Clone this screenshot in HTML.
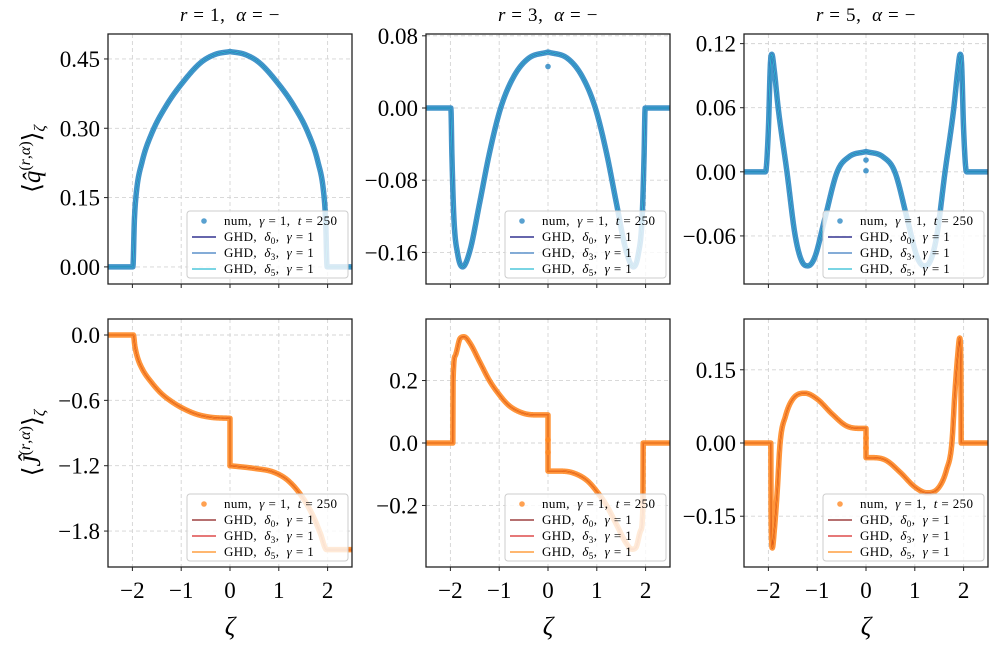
<!DOCTYPE html>
<html><head><meta charset="utf-8"><style>
html,body{margin:0;padding:0;background:#fff;}
svg{display:block;font-family:"Liberation Serif",serif;}
text{white-space:pre;}
</style></head><body>
<svg id="s" width="997" height="647" viewBox="0 0 997 647" xmlns="http://www.w3.org/2000/svg"></svg>
<script>
const S=document.getElementById('s');let out='';
function interp(P,x){if(x<=P[0][0])return P[0][1];const n=P.length;
 if(!P.m){const d=[];for(let i=0;i<n-1;i++)d.push((P[i+1][1]-P[i][1])/(P[i+1][0]-P[i][0]));
  const m=[d[0]];for(let i=1;i<n-1;i++){m.push(d[i-1]*d[i]<=0?0:(d[i-1]+d[i])/2);}m.push(d[n-2]);
  for(let i=0;i<n-1;i++){if(d[i]==0){m[i]=0;m[i+1]=0;continue;}const a=m[i]/d[i],b=m[i+1]/d[i],s=a*a+b*b;
   if(s>9){const t=3/Math.sqrt(s);m[i]=t*a*d[i];m[i+1]=t*b*d[i];}}P.m=m;}
 for(let i=0;i<n-1;i++){if(x<=P[i+1][0]){
 const x0=P[i][0],x1=P[i+1][0],y0=P[i][1],y1=P[i+1][1],h=x1-x0,m0=P.m[i],m1=P.m[i+1];
 const t=(x-x0)/h,t2=t*t,t3=t2*t;
 return (2*t3-3*t2+1)*y0+(t3-2*t2+t)*h*m0+(-2*t3+3*t2)*y1+(t3-t2)*h*m1;}}return P[n-1][1];}
const Q1=[[-2.5,0],[-1.99,0],[-1.96,0.1],[-1.92,0.16],[-1.8,0.228],[-1.6,0.29],[-1.3,0.35],[-1,0.395],[-0.6,0.442],[-0.3,0.46],[0,0.466]];
const Q3=[[-2.5,0],[-1.99,0],[-1.97,-0.05],[-1.93,-0.12],[-1.85,-0.162],[-1.75,-0.176],[-1.6,-0.158],[-1.4,-0.105],[-1.2,-0.05],[-0.97,0],[-0.7,0.035],[-0.4,0.055],[0,0.062]];
const Q5=[[-2.5,0],[-2.06,0],[-2.0,0.04],[-1.96,0.1],[-1.93,0.11],[-1.88,0.095],[-1.8,0.06],[-1.62,0],[-1.45,-0.06],[-1.3,-0.085],[-1.19,-0.088],[-1.05,-0.08],[-0.85,-0.045],[-0.59,0],[-0.35,0.014],[0,0.019]];
const J1L=[[-2.5,0],[-1.98,0],[-1.95,-0.1],[-1.9,-0.2],[-1.8,-0.31],[-1.6,-0.44],[-1.4,-0.54],[-1.2,-0.61],[-1,-0.665],[-0.7,-0.725],[-0.4,-0.755],[0,-0.765]];
const J1R=[[0,-1.2],[0.5,-1.225],[0.9,-1.26],[1.2,-1.34],[1.5,-1.5],[1.7,-1.66],[1.85,-1.82],[1.98,-1.97],[2.5,-1.97]];
const P3=[[-2.5,0],[-1.95,0],[-1.945,0.2],[-1.9,0.28],[-1.8,0.335],[-1.72,0.34],[-1.6,0.32],[-1.4,0.26],[-1.2,0.2],[-1,0.155],[-0.8,0.12],[-0.5,0.095],[-0.2,0.09],[0,0.09]];
const P5=[[-2.5,0],[-1.95,0],[-1.945,-0.15],[-1.92,-0.215],[-1.88,-0.18],[-1.82,-0.1],[-1.76,0],[-1.65,0.055],[-1.5,0.09],[-1.25,0.102],[-1.0,0.09],[-0.7,0.06],[-0.4,0.035],[-0.1,0.03],[0,0.03]];
const even=P=>z=>interp(P,-Math.abs(z));
const odd=P=>z=>z<0?interp(P,z):-interp(P,-z);
const W=244;
function panel(x0,y0,h,ymin,ymax,ticks,labs,fn,bottom,orange,title,extra){
 const X=z=>x0+(z+2.5)/5*W,Y=v=>y0+(ymax-v)/(ymax-ymin)*h;const id='c'+x0+'_'+y0;
 out+=`<clipPath id="${id}"><rect x="${x0}" y="${y0}" width="${W}" height="${h}"/></clipPath>`;
 for(let t=-2;t<=2;t++)out+=`<line x1="${X(t)}" y1="${y0}" x2="${X(t)}" y2="${y0+h}" stroke="#d4d4d4" stroke-dasharray="4,3" stroke-width="0.9"/>`;
 ticks.forEach(v=>out+=`<line x1="${x0}" y1="${Y(v)}" x2="${x0+W}" y2="${Y(v)}" stroke="#d4d4d4" stroke-dasharray="4,3" stroke-width="0.9"/>`);
 let pts=[];for(let z=-2.5;z<-0.0001;z+=0.005)pts.push([z,fn(z)]);pts.push([-0.0001,fn(-0.0001)]);pts.push([0.0001,fn(0.0001)]);
 for(let z=0.005;z<=2.5001;z+=0.005)pts.push([z,fn(z)]);
 const d='M'+pts.map(p=>X(p[0]).toFixed(2)+','+Y(p[1]).toFixed(2)).join('L');
 const dot=orange?'#ff8a26':'#2f8ac4';const cols=orange?['#8b1a1a','#d62728','#ff8c1a']:['#0b0b7a','#3a7bbf','#2bbcd4'];
 out+=`<g clip-path="url(#${id})"><path d="${d}" fill="none" stroke="${dot}" stroke-width="5.5" stroke-linejoin="round" opacity="0.9"/>`;
 cols.forEach((c,i)=>out+=`<path d="${d}" fill="none" stroke="${c}" stroke-width="${i==0?1.3:1}" opacity="0.9"/>`);
 (extra||[]).forEach(p=>out+=`<circle cx="${X(p[0])}" cy="${Y(p[1])}" r="2.8" fill="${dot}" opacity="0.85"/>`);
 out+=`</g>`;
 out+=`<rect x="${x0}" y="${y0}" width="${W}" height="${h}" fill="none" stroke="#222" stroke-width="1.3"/>`;
 ticks.forEach((v,i)=>{out+=`<line x1="${x0-4}" y1="${Y(v)}" x2="${x0}" y2="${Y(v)}" stroke="#222"/>`;
  out+=`<text x="${x0-8}" y="${Y(v)+8}" font-size="23" text-anchor="end">${labs[i]}</text>`;});
 for(let t=-2;t<=2;t++){out+=`<line x1="${X(t)}" y1="${y0+h}" x2="${X(t)}" y2="${y0+h+4}" stroke="#222"/>`;
  if(bottom)out+=`<text x="${X(t)}" y="${y0+h+31}" font-size="23" text-anchor="middle">${t<0?'−'+(-t):t}</text>`;}
 if(bottom)out+=`<text x="${x0+W/2}" y="${y0+h+68}" font-size="26" font-style="italic" text-anchor="middle">ζ</text>`;
 if(title)out+=`<text x="${x0+W/2}" y="${y0-13}" font-size="19" text-anchor="middle" letter-spacing="0.6"><tspan font-style="italic">r</tspan> = ${title},  <tspan font-style="italic">α</tspan> = −</text>`;
 const lx=x0+W-165,ly=y0+h-73;
 out+=`<rect x="${lx}" y="${ly}" width="161" height="67" rx="3" fill="#fff" fill-opacity="0.8" stroke="#ccc"/>`;
 out+=`<circle cx="${lx+17}" cy="${ly+10}" r="2.8" fill="${dot}" opacity="0.8"/>`;
 out+=`<text x="${lx+37}" y="${ly+14}" font-size="13" letter-spacing="0.4">num,  <tspan font-style="italic">γ</tspan> = 1,  <tspan font-style="italic">t</tspan> = 250</text>`;
 ['0','3','5'].forEach((s,i)=>{const yy=ly+26+i*16;
  out+=`<line x1="${lx+5}" y1="${yy}" x2="${lx+29}" y2="${yy}" stroke="${cols[i]}" stroke-width="1.3"/>`;
  out+=`<text x="${lx+37}" y="${yy+4}" font-size="13" letter-spacing="0.4">GHD,  <tspan font-style="italic">δ</tspan><tspan font-size="9" dy="3">${s}</tspan><tspan dy="-3">,  </tspan><tspan font-style="italic">γ</tspan> = 1</text>`;});
}
const T=34,H1=250,B=319,H2=248;
panel(108,T,H1,-0.037,0.504,[0,0.15,0.30,0.45],['0.00','0.15','0.30','0.45'],even(Q1),false,false,'1');
panel(426,T,H1,-0.195,0.082,[0.08,0,-0.08,-0.16],['0.08','0.00','−0.08','−0.16'],even(Q3),false,false,'3',[[0,0.046]]);
panel(744,T,H1,-0.105,0.129,[0.12,0.06,0,-0.06],['0.12','0.06','0.00','−0.06'],even(Q5),false,false,'5',[[0,0.011],[0,0.001]]);
panel(108,B,H2,-2.13,0.147,[0,-0.6,-1.2,-1.8],['0.0','−0.6','−1.2','−1.8'],z=>z<0?interp(J1L,z):interp(J1R,z),true,true,null);
panel(426,B,H2,-0.397,0.397,[0.2,0,-0.2],['0.2','0.0','−0.2'],odd(P3),true,true,null,[[0,0.01],[0,-0.03]]);
panel(744,B,H2,-0.254,0.254,[0.15,0,-0.15],['0.15','0.00','−0.15'],odd(P5),true,true,null,[[0,0.01],[0,-0.01]]);
out+=`<text transform="translate(40,159) rotate(-90)" font-size="25" text-anchor="middle">⟨<tspan font-style="italic">q̂</tspan><tspan font-size="16" dy="-10">(<tspan font-style="italic">r</tspan>,<tspan font-style="italic">α</tspan>)</tspan><tspan dy="10">⟩</tspan><tspan font-size="16" dy="5" font-style="italic">ζ</tspan></text>`;
out+=`<text transform="translate(40,443) rotate(-90)" font-size="25" text-anchor="middle">⟨<tspan font-style="italic">Ĵ</tspan><tspan font-size="16" dy="-10">(<tspan font-style="italic">r</tspan>,<tspan font-style="italic">α</tspan>)</tspan><tspan dy="10">⟩</tspan><tspan font-size="16" dy="5" font-style="italic">ζ</tspan></text>`;
S.innerHTML=out;
</script>
</body></html>
